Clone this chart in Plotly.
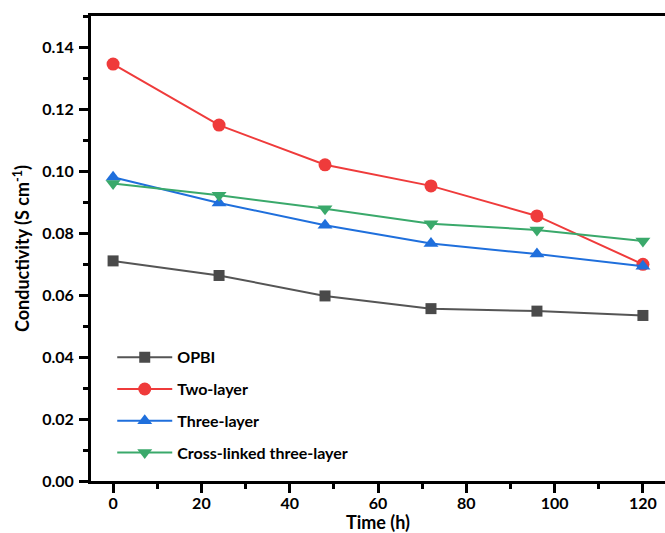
import plotly.graph_objects as go

time_h = [0, 24, 48, 72, 96, 120]
opbi = [0.0710, 0.0663, 0.0597, 0.0556, 0.0548, 0.0534]
two_layer = [0.1345, 0.1148, 0.1020, 0.0952, 0.0855, 0.0699]
three_layer = [0.0980, 0.0897, 0.0825, 0.0766, 0.0732, 0.0693]
cross_linked = [0.0960, 0.0922, 0.0878, 0.0830, 0.0810, 0.0774]

series_names = ["OPBI", "Two-layer", "Three-layer", "Cross-linked three-layer"]
series_values = [opbi, two_layer, three_layer, cross_linked]
line_colors = ["#555555", "#ef3b3b", "#1f6fdc", "#3aa96b"]
marker_colors = ["#4a4a4a", "#ef3b3b", "#1f6fdc", "#3aa96b"]
symbols = ["square", "circle", "triangle-up", "triangle-down"]
sizes = [11, 13, 13, 13]

FONT = "Lato"

fig = go.Figure()
for i, (name, vals) in enumerate(zip(series_names, series_values)):
    fig.add_trace(go.Scatter(
        x=time_h, y=vals, name=name, mode="lines+markers",
        legendgroup=name,
        line=dict(color=line_colors[i], width=2),
        marker=dict(symbol=symbols[i], size=sizes[i], color=marker_colors[i]),
    ))

axis_common = dict(
    showline=True, linecolor="black", linewidth=3,
    ticks="outside", ticklen=9, tickwidth=3, tickcolor="black",
    showgrid=False, zeroline=False, automargin=False,
    tickfont=dict(family=FONT, size=16, color="black", weight="bold"),
)

fig.update_xaxes(
    **axis_common, range=[-5, 125], dtick=20, tick0=0, mirror=True,
    ticklabelstandoff=-3,
    minor=dict(ticks="outside", dtick=10, ticklen=5, tickwidth=2.5, tickcolor="black"),
    title=dict(text="Time (h)", font=dict(family=FONT, size=18, color="black", weight="bold"), standoff=0),
)
fig.update_yaxes(
    **axis_common, range=[0, 0.15], dtick=0.02, tick0=0, tickformat=".2f",
    ticklabelstandoff=2,
    minor=dict(ticks="outside", dtick=0.01, ticklen=5, tickwidth=2.5, tickcolor="black"),
    title=dict(text="Conductivity (S cm<sup>-1</sup>)", font=dict(family=FONT, size=18, color="black", weight="bold"), standoff=8),
)

fig.update_layout(
    width=665, height=533,
    margin=dict(l=91, r=0, t=16, b=52, pad=0),
    paper_bgcolor="white", plot_bgcolor="white",
    showlegend=True,
    legend=dict(
        x=0.037, y=0.023, xanchor="left", yanchor="bottom",
        font=dict(family=FONT, size=16, color="black", weight="bold"),
        bgcolor="rgba(0,0,0,0)", tracegroupgap=8, traceorder="grouped",
        itemwidth=55,
    ),
)

fig.write_html("out.html", config={"displayModeBar": False},
               post_script="document.body.style.margin='0';")
